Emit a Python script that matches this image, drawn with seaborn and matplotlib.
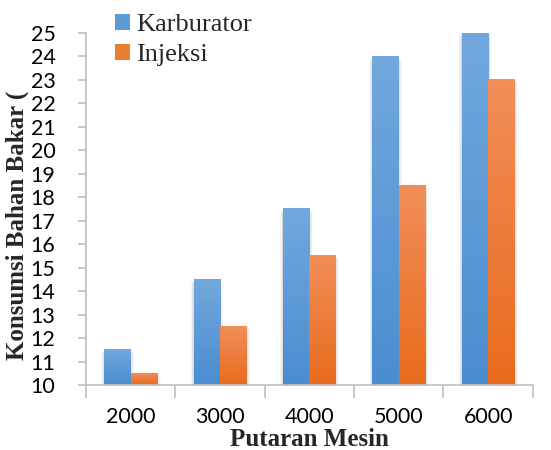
import numpy as np
import pandas as pd
import matplotlib
matplotlib.use("Agg")
import matplotlib.pyplot as plt
import seaborn as sns
from matplotlib.patches import Patch
from matplotlib.colors import LinearSegmentedColormap

categories = ["2000", "3000", "4000", "5000", "6000"]
karburator = [11.5, 14.5, 17.5, 24.0, 25.0]
injeksi = [10.5, 12.5, 15.5, 18.5, 23.0]
series_names = ["Karburator", "Injeksi"]
yticks = list(range(10, 26))

df = pd.DataFrame({
    "Putaran": categories * 2,
    "Nilai": karburator + injeksi,
    "Seri": [series_names[0]] * 5 + [series_names[1]] * 5,
})

sns.set_theme(style="white")
plt.rcParams["font.family"] = ["Lato", "DejaVu Sans"]

fig = plt.figure(figsize=(5.51, 4.5), dpi=100)
ax = fig.add_axes([0.156, 0.1444, 0.811, 0.7823])

blue_top, blue_bot = "#72a8de", "#4a8dd0"
orng_top, orng_bot = "#f28e59", "#e86b1d"

sns.barplot(data=df, x="Putaran", y="Nilai", hue="Seri", order=categories,
            hue_order=series_names, palette=[blue_bot, orng_bot],
            width=0.59, ax=ax, legend=False, saturation=1, linewidth=0)
ax.set_xlabel("")
ax.set_ylabel("")

ax.set_ylim(10, 25)
ax.set_xlim(-0.5, 4.5)

cmaps = {
    0: LinearSegmentedColormap.from_list("b", [blue_bot, blue_top]),
    1: LinearSegmentedColormap.from_list("o", [orng_bot, orng_top]),
}
grad = np.linspace(0, 1, 256).reshape(-1, 1)
bars = [p for p in ax.patches if p.get_height() > 0]
for i, p in enumerate(bars):
    s = i // len(categories)
    x0 = p.get_x(); w = p.get_width()
    top = min(p.get_y() + p.get_height(), 25)
    p.set_edgecolor("none")
    # soft shadow on the sides
    for k in range(4):
        d = 0.008 * (k + 1)
        ax.add_patch(plt.Rectangle((x0 - d, 10), w + 2 * d, top - 10 - 0.05 * k,
                                   facecolor="black", edgecolor="none", alpha=0.035,
                                   lw=0, zorder=1))
    p.set_zorder(2)
    ax.imshow(grad, extent=[x0, x0 + w, 10, top], origin="lower", aspect="auto",
              cmap=cmaps[s], zorder=3, interpolation="bilinear")
ax.set_autoscale_on(False)
ax.set_ylim(10, 25)
ax.set_xlim(-0.5, 4.5)

for sp in ["top", "right"]:
    ax.spines[sp].set_visible(False)
for sp in ["left", "bottom"]:
    ax.spines[sp].set_color("#bfbfbf")
    ax.spines[sp].set_linewidth(1.2)
    ax.spines[sp].set_zorder(5)

ax.set_yticks(yticks)
ax.set_yticklabels([str(t) for t in yticks], fontsize=15.5, color="black")
ax.tick_params(axis="y", direction="out", length=6, width=1.2, color="#bfbfbf", pad=16, left=True)
ax.set_xticks(range(len(categories)))
ax.set_xticklabels(categories, fontsize=15.5, color="black")
ax.tick_params(axis="x", which="major", length=0, pad=16)
ax.set_xticks([i - 0.5 for i in range(len(categories) + 1)], minor=True)
ax.tick_params(axis="x", which="minor", direction="out", length=9, width=1.2,
               color="#bfbfbf", bottom=True)

fig.text(309 / 551, 4 / 450, "Putaran Mesin", fontsize=18, fontweight="bold",
         family="Liberation Serif", ha="center", va="baseline")
fig.text(17 / 551, 0.50, "Konsumsi Bahan Bakar (", fontsize=18, fontweight="bold",
         family="Liberation Serif", ha="center", va="center", rotation=90)

handles = [Patch(facecolor="#5b9bd5", edgecolor="none"),
           Patch(facecolor="#ed7d31", edgecolor="none")]
fig.legend(handles, series_names, loc="upper left", bbox_to_anchor=(0.19, 0.993),
           frameon=False, prop={"family": "Liberation Serif", "size": 19},
           handlelength=0.55, handleheight=0.55, handletextpad=0.25,
           labelspacing=0.3, borderaxespad=0)

ax.grid(False)
fig.savefig("out.png", dpi=100)
